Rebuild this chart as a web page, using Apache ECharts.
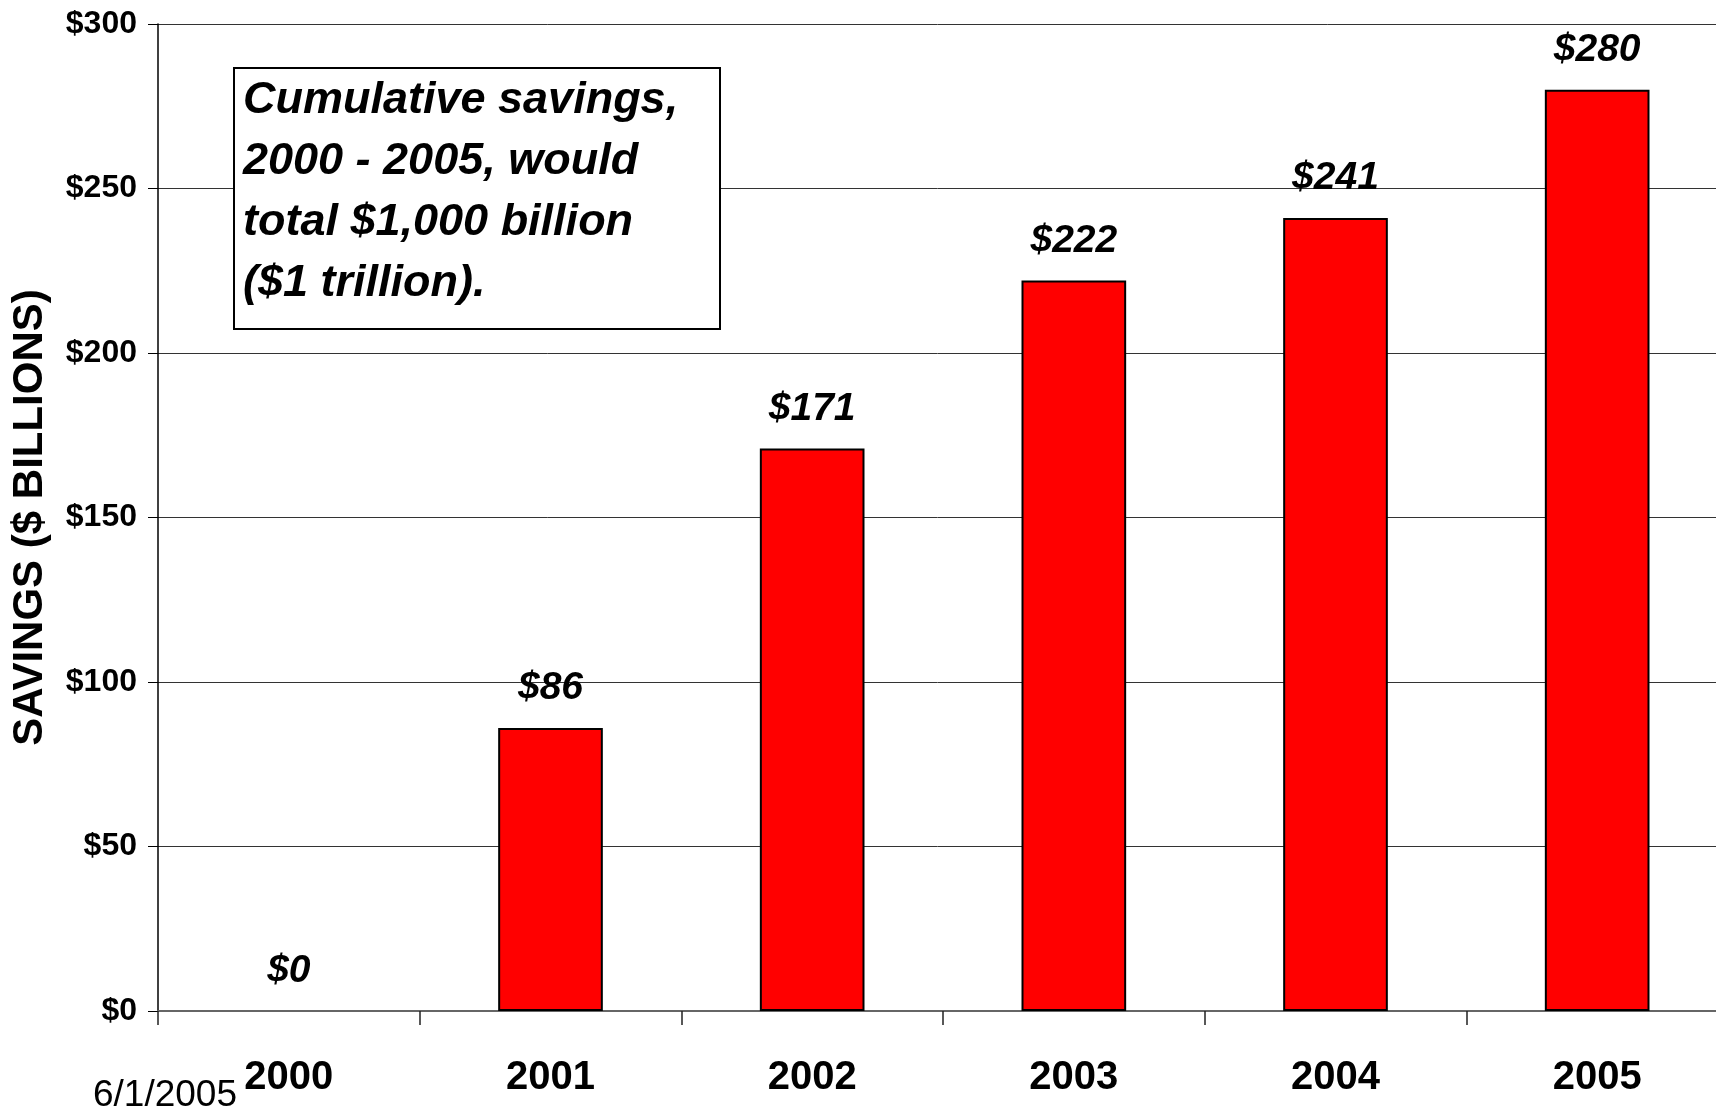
<!DOCTYPE html>
<html>
<head>
<meta charset="utf-8">
<script src="https://cdn.jsdelivr.net/npm/echarts@6/dist/echarts.min.js"></script>
<style>
  html, body { margin: 0; padding: 0; background: #fff; }
  #chart { width: 1716px; height: 1110px; }
</style>
</head>
<body>
<div id="chart"></div>
<script>
const years = ['2000', '2001', '2002', '2003', '2004', '2005'];
const savings = [0, 86, 171, 222, 241, 280];
const yTicks = [0, 50, 100, 150, 200, 250, 300];
const noteLines = ['Cumulative savings,', '2000 - 2005, would', 'total $1,000 billion', '($1 trillion).'];

const font = '"Liberation Sans", Arial, sans-serif';
const chart = echarts.init(document.getElementById('chart'));

// a zero bar should not leave an outline on the axis
const barData = savings.map(v => v === 0 ? { value: v, itemStyle: { borderWidth: 0 } } : v);

chart.setOption({
  animation: false,
  backgroundColor: '#fff',
  grid: { left: 158, right: -12, top: 24, bottom: 99, outerBoundsMode: 'none', containLabel: false },
  xAxis: {
    type: 'category',
    data: years,
    axisLine: { lineStyle: { color: '#666', width: 2 } },
    axisTick: { show: true, length: 14, lineStyle: { color: '#222', width: 1.5 } },
    axisLabel: { color: '#000', fontFamily: font, fontWeight: 'bold', fontSize: 40, margin: 47 }
  },
  yAxis: {
    type: 'value',
    min: yTicks[0],
    max: yTicks[yTicks.length - 1],
    interval: 50,
    name: 'SAVINGS ($ BILLIONS)',
    nameLocation: 'middle',
    nameGap: 107,
    nameTextStyle: { color: '#000', fontFamily: font, fontWeight: 'bold', fontSize: 42 },
    axisLine: { show: true, lineStyle: { color: '#000', width: 1.5 } },
    axisTick: { show: true, length: 10, lineStyle: { color: '#000' } },
    axisLabel: {
      color: '#000', fontFamily: font, fontWeight: 'bold', fontSize: 32, margin: 21,
      formatter: v => '$' + v
    },
    splitLine: { lineStyle: { color: '#333', width: 1 } }
  },
  series: [{
    type: 'bar',
    data: barData,
    barWidth: '40%',
    itemStyle: { color: '#ff0000', borderColor: '#000', borderWidth: 2 },
    label: {
      show: true,
      position: 'top',
      distance: 20,
      color: '#000',
      fontFamily: font,
      fontWeight: 'bold',
      fontStyle: 'italic',
      fontSize: 39,
      formatter: p => '$' + p.value
    }
  }],
  graphic: [
    {
      type: 'rect',
      left: 233, top: 67,
      shape: { width: 486, height: 261 },
      style: { fill: '#fff', stroke: '#000', lineWidth: 2 },
      z: 100
    },
    {
      type: 'text',
      left: 243, top: 70,
      style: {
        text: noteLines.join('\n'),
        font: 'italic bold 45px ' + font,
        lineHeight: 61,
        fill: '#000'
      },
      z: 101
    },
    {
      type: 'text',
      left: 93, top: 1077,
      style: { text: '6/1/2005', font: '37px ' + font, fill: '#000' },
      z: 101
    }
  ]
});
</script>
</body>
</html>
